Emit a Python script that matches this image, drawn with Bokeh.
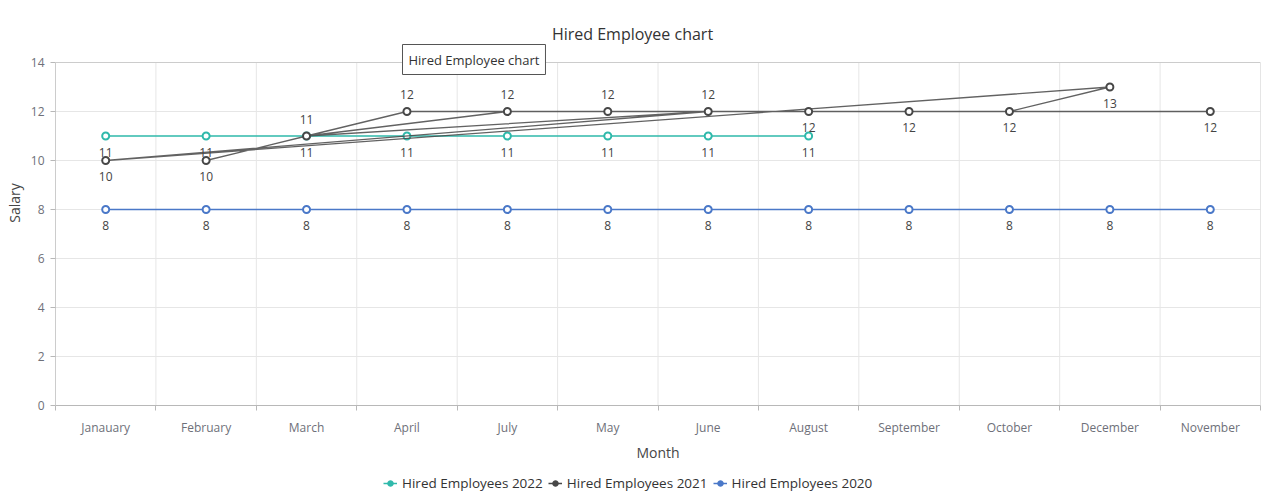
from bokeh.plotting import figure
from bokeh.layouts import column
from bokeh.models import (Range1d, FactorRange, LinearAxis, FixedTicker,
                          Label, Legend, LegendItem, ColumnDataSource)
from bokeh.embed import file_html
from bokeh.resources import INLINE
from bokeh.core.properties import value

# ---------------- data ----------------
months = ["Janauary", "February", "March", "April", "July", "May", "June",
          "August", "September", "October", "December", "November"]

months_2022 = ["Janauary", "February", "March", "April", "July", "May", "June", "August"]
hired_2022 = [11, 11, 11, 11, 11, 11, 11, 11]

months_2021 = ["Janauary", "February", "March", "April", "July", "May", "June",
               "August", "September", "October", "December", "November"]
hired_2021 = [10, 10, 11, 12, 12, 12, 12, 12, 12, 12, 13, 12]
# order in which the 2021 points are joined in the original chart
path_2021 = ["February", "March", "April", "July", "March", "June", "Janauary",
             "December", "October", "September", "August", "June", "May", "July",
             "October", "November"]
labels_above_2021 = ["March", "April", "July", "May", "June"]

months_2020 = months
hired_2020 = [8, 8, 8, 8, 8, 8, 8, 8, 8, 8, 8, 8]

series_names = ["Hired Employees 2022", "Hired Employees 2021", "Hired Employees 2020"]
y_ticks = [0, 2, 4, 6, 8, 10, 12, 14]
y_max = 14
title_text = "Hired Employee chart"

# ---------------- style ----------------
FONT = "Open Sans"
C2022 = "#2fb9ab"
C2021 = "#474747"
C2020 = "#4a78c8"
GRID = "#e6e6e6"
BORDER = "#cccccc"
TICK_TXT = "#6e7079"
N = len(months)

# frame spans from the top of the canvas down to the x axis; the plot
# area proper (0..14) is bordered by drawn lines
p = figure(width=1263, height=465,
           x_range=FactorRange(*months, range_padding=0),
           y_range=Range1d(0, y_max * 405 / 343),
           x_axis_type=None,
           output_backend="svg", toolbar_location=None,
           min_border_left=55, min_border_right=3, min_border_top=0,
           min_border_bottom=60)
p.outline_line_color = None
p.background_fill_color = "white"
p.border_fill_color = "white"

# x axis: labels at category centres, ticks at boundaries
xt = FixedTicker(ticks=[i + 0.5 for i in range(N)], minor_ticks=list(range(N + 1)))
xaxis = LinearAxis(ticker=xt,
                   major_label_overrides={i + 0.5: m for i, m in enumerate(months)},
                   axis_label="Month")
xaxis.major_tick_line_color = None
xaxis.major_tick_out = 0
xaxis.major_tick_in = 0
xaxis.minor_tick_out = 5
xaxis.minor_tick_in = 0
xaxis.minor_tick_line_color = "#b8b8b8"
xaxis.axis_line_color = "#b8b8b8"
xaxis.major_label_standoff = 8
xaxis.major_label_text_font = FONT
xaxis.major_label_text_font_size = "12px"
xaxis.major_label_text_color = TICK_TXT
xaxis.axis_label_standoff = 4
xaxis.axis_label_text_font = FONT
xaxis.axis_label_text_font_size = "14px"
xaxis.axis_label_text_font_style = "normal"
xaxis.axis_label_text_color = "#464646"
p.add_layout(xaxis, "below")

# y axis
p.yaxis.ticker = FixedTicker(ticks=y_ticks)
p.yaxis.bounds = (0, y_max)
p.yaxis.axis_label = "Salary"
p.yaxis.axis_line_color = BORDER
p.yaxis.major_tick_line_color = "#b8b8b8"
p.yaxis.major_tick_out = 5
p.yaxis.major_tick_in = 0
p.yaxis.minor_tick_line_color = None
p.yaxis.major_label_standoff = 6
p.yaxis.major_label_text_font = FONT
p.yaxis.major_label_text_font_size = "12px"
p.yaxis.major_label_text_color = TICK_TXT
p.yaxis.axis_label_standoff = 4
p.yaxis.axis_label_text_font = FONT
p.yaxis.axis_label_text_font_size = "14px"
p.yaxis.axis_label_text_font_style = "normal"
p.yaxis.axis_label_text_color = "#464646"
p.ygrid.ticker = FixedTicker(ticks=y_ticks[:-1])
p.ygrid.grid_line_color = GRID

# vertical grid lines at category boundaries, plus the plot-area border
p.segment(x0=list(range(1, N)), y0=[0] * (N - 1), x1=list(range(1, N)),
          y1=[y_max] * (N - 1), line_color=GRID, line_width=1)
p.segment(x0=[0, N], y0=[y_max, 0], x1=[N, N], y1=[y_max, y_max],
          line_color=BORDER, line_width=1)


def label_source(xs, ys, above):
    return ColumnDataSource(dict(x=xs, y=ys, t=[str(v) for v in ys],
                                 off=[-17 if a else 16 for a in above]))


def add_labels(src):
    p.text(x="x", y="y", text="t", y_offset="off", source=src, text_align="center",
           text_baseline="middle", text_font=value(FONT), text_font_size="12px",
           text_color="#444444")


# 2022
p.line(months_2022, hired_2022, line_color=C2022, line_width=1.6)
p.scatter(months_2022, hired_2022, size=7, line_color=C2022, line_width=2,
          fill_color="white")
add_labels(label_source(months_2022, hired_2022, [False] * len(months_2022)))

# 2021
val_2021 = dict(zip(months_2021, hired_2021))
p.line(path_2021, [val_2021[m] for m in path_2021], line_color=C2021,
       line_width=1.3, line_alpha=0.85)
p.scatter(months_2021, hired_2021, size=7, line_color=C2021, line_width=2,
          fill_color="white")
add_labels(label_source(months_2021, hired_2021,
                        [m in labels_above_2021 for m in months_2021]))

# 2020
p.line(months_2020, hired_2020, line_color=C2020, line_width=1.6)
p.scatter(months_2020, hired_2020, size=7, line_color=C2020, line_width=2,
          fill_color="white")
add_labels(label_source(months_2020, hired_2020, [False] * len(months_2020)))

# title and hover tooltip
p.add_layout(Label(x=577, y=372, x_units="screen", y_units="screen",
                   text=title_text, text_font=FONT,
                   text_font_size="16px", text_color="#333333",
                   text_align="center", text_baseline="middle"))
p.add_layout(Label(x=347, y=346, x_units="screen", y_units="screen",
                   text=title_text, text_font=FONT,
                   text_font_size="13px", text_color="#333333",
                   text_align="left", text_baseline="middle",
                   border_line_color="#555555", border_line_width=1,
                   background_fill_color="white", padding=6))

# ---------------- legend strip ----------------
lg = figure(width=1263, height=35, x_range=Range1d(0, 1), y_range=Range1d(0, 1),
            x_axis_type=None, y_axis_type=None, output_backend="svg",
            toolbar_location=None, min_border=0)
lg.outline_line_color = None
lg.xgrid.visible = False
lg.ygrid.visible = False
leg_items = []
for name, col in zip(series_names, [C2022, C2021, C2020]):
    # sample glyphs placed outside the visible range; only used by the legend
    e = ColumnDataSource(dict(x=[-5, -4], y=[-5, -5]))
    lr = lg.line("x", "y", source=e, line_color=col, line_width=1.5)
    sr = lg.scatter("x", "y", source=e, size=7, fill_color=col, line_color=col)
    leg_items.append(LegendItem(label=name, renderers=[lr, sr]))

legend = Legend(items=leg_items, orientation="horizontal", location=(328, 8),
                label_text_font=FONT, label_text_font_size="13.5px",
                label_text_color="#333333", glyph_width=14, glyph_height=14,
                label_standoff=5, spacing=5, padding=0, margin=0,
                border_line_color=None, background_fill_alpha=0)
lg.add_layout(legend, "center")

layout = column(p, lg, spacing=0)
open("out.html", "w").write(file_html(layout, INLINE))
